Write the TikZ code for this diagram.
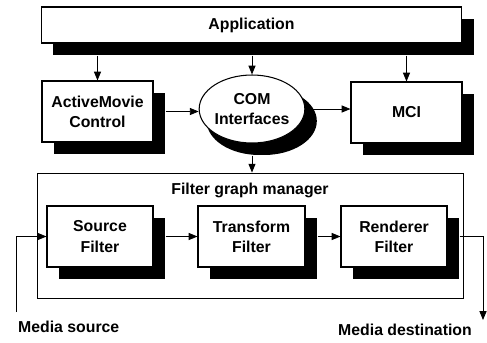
\documentclass[tikz,border=0pt]{standalone}
\usepackage{fontspec}
\setmainfont{Liberation Sans}
\usetikzlibrary{shapes.geometric,shadows,arrows.meta}
\newcommand{\shd}{0.24cm}
\tikzset{
	box/.style={draw,fill=white,line width=0.6pt,inner sep=0pt,align=center,
		drop shadow={shadow xshift=\shd,shadow yshift=-\shd,fill=black,opacity=1}},
	arr/.style={line width=0.5pt,-{Triangle[length=5pt,width=4pt]}},
	txt/.style={font=\fontsize{9}{11.5}\selectfont\bfseries,align=center}
}
\begin{document}
\begin{tikzpicture}[x=0.02cm,y=-0.02cm,txt]
		\useasboundingbox (0,0) rectangle (487,342);
		\draw (251.5,25) node (app)[box,minimum width=8.42cm,minimum height=0.72cm]{Application};
		\draw (97.5,111.5) node (amc)[box,minimum width=2.22cm,minimum height=1.22cm]{ActiveMovie\\Control};
		\draw (252,109) node (com)[box,ellipse,minimum width=2.04cm,minimum height=1.36cm,
			drop shadow={shadow xshift=0.15cm,shadow yshift=-\shd,fill=black,opacity=1}]{COM\\Interfaces};
		\draw (406.5,112.5) node (mci)[box,minimum width=2.22cm,minimum height=1.22cm]{MCI};
		\draw[arr] ([yshift=-\shd]app.south -| amc.north) -- (amc.north);
		\draw[arr] ([yshift=-\shd]app.south -| com.north) -- (com.north);
		\draw[arr] ([yshift=-\shd]app.south -| mci.north) -- (mci.north);
		\draw[arr] ([xshift=\shd]amc.east) -- (com.west |- amc.east);
		\draw[arr] ([xshift=0.14cm]com.east) -- (mci.west |- com.east);

		\draw (250,235.5) node (fgm)[draw,line width=0.5pt,minimum width=8.52cm,minimum height=2.5cm]{};
		\draw (250,190) node (fgmlabel){Filter graph manager};
		\draw[arr] ([yshift=-\shd]com.south) -- (com.south |- fgm.north);
		\draw (100,236.5) node (src)[box,minimum width=2.12cm,minimum height=1.22cm]{Source\\Filter};
		\draw (251.5,236.5) node (trf)[box,minimum width=2.14cm,minimum height=1.22cm]{Transform\\Filter};
		\draw (394,236.5) node (rnd)[box,minimum width=2.12cm,minimum height=1.22cm]{Renderer\\Filter};
		\draw[arr] ([xshift=\shd]src.east) -- (trf.west);
		\draw[arr] ([xshift=\shd]trf.east) -- (rnd.west);

		\coordinate (msrc) at (16,312);
		\coordinate (mdst) at (483,320);
		\draw[arr] (msrc) |- (src.west);
		\draw[arr] ([xshift=\shd]rnd.east) -| (mdst);
		\draw (12,327) node (msrclabel)[anchor=west]{Media source};
		\draw (405,330) node (mdstlabel){Media destination};
	\end{tikzpicture}
\end{document}
